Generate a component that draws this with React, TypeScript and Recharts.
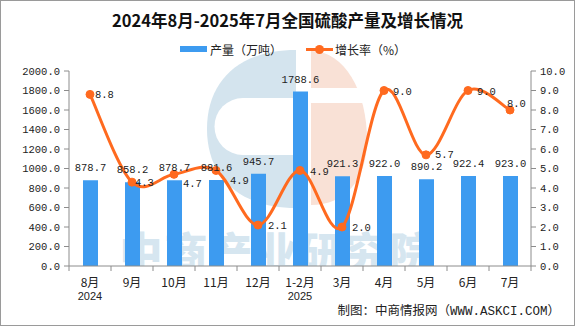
import React from 'react';
import { ComposedChart, Bar, Line, XAxis, YAxis, LabelList } from 'recharts';

const categories = ['8月', '9月', '10月', '11月', '12月', '1-2月', '3月', '4月', '5月', '6月', '7月'];
const yearLabels = ['2024', '', '', '', '', '2025', '', '', '', '', ''];
const production = [878.7, 858.2, 878.7, 881.6, 945.7, 1788.6, 921.3, 922.0, 890.2, 922.4, 923.0];
const growth = [8.8, 4.3, 4.7, 4.9, 2.1, 4.9, 2.0, 9.0, 5.7, 9.0, 8.0];
const leftTicks = [0, 200, 400, 600, 800, 1000, 1200, 1400, 1600, 1800, 2000];
const rightTicks = [0, 1, 2, 3, 4, 5, 6, 7, 8, 9, 10];

const data = categories.map((c, i) => ({ name: c, year: yearLabels[i], prod: production[i], growth: growth[i] }));

// label placement (style only): [dx, dy] relative to each point
const growthLabelOffsets = [[5, 0], [3, 0], [9, 9], [14, 10], [10, 0], [10, 1], [10, 0], [9, 0], [9, -1], [9, 0], [-3, -7]];

const MONO = '"Liberation Mono", "DejaVu Sans Mono", monospace';
const CJK = '"Noto Sans CJK SC", sans-serif';
const AXIS = '#8c8c8c';
const BLUE = '#3d9bf0';
const ORANGE = '#ff6a1f';
const BAND = 42;

// Excel-like smoothed line (Catmull-Rom Bezier)
const smoothCurve = (context: any) => {
  let pts: number[][] = [];
  return {
    areaStart() {},
    areaEnd() {},
    lineStart() { pts = []; },
    point(x: number, y: number) { pts.push([+x, +y]); },
    lineEnd() {
      if (!pts.length) return;
      context.moveTo(pts[0][0], pts[0][1]);
      for (let i = 0; i < pts.length - 1; i++) {
        const p0 = pts[i - 1] || pts[i];
        const p1 = pts[i];
        const p2 = pts[i + 1];
        const p3 = pts[i + 2] || p2;
        const c1x = p1[0] + (p2[0] - p0[0]) / 6;
        const c1y = p1[1] + (p2[1] - p0[1]) / 6;
        const c2x = p2[0] - (p3[0] - p1[0]) / 6;
        const c2y = p2[1] - (p3[1] - p1[1]) / 6;
        context.bezierCurveTo(c1x, c1y, c2x, c2y, p2[0], p2[1]);
      }
    },
  };
};

const XTick = (props: any) => {
  const { x, y, payload, index } = props;
  const i = payload && payload.index != null ? payload.index : index;
  const yr = yearLabels[i];
  return (
    <g>
      <line x1={x - BAND / 2} x2={x - BAND / 2} y1={y} y2={y + 5} stroke={AXIS} />
      {i === categories.length - 1 && (
        <line x1={x + BAND / 2} x2={x + BAND / 2} y1={y} y2={y + 5} stroke={AXIS} />
      )}
      <text x={x} y={y + 21} textAnchor="middle" fontSize={12} fontFamily={CJK} fill="#222">
        {payload.value}
      </text>
      {yr && (
        <text x={x} y={y + 34} textAnchor="middle" fontSize={11} fontFamily={'"Liberation Sans", sans-serif'} fill="#222">
          {yr}
        </text>
      )}
    </g>
  );
};

const GrowthLabel = (props: any) => {
  const { x, y, value, index } = props;
  const off = growthLabelOffsets[index] || [8, 0];
  return (
    <text x={x + off[0]} y={y + off[1] + 4} fontSize={10.5} fontFamily={MONO} fill="#222" textAnchor="start">
      {Number(value).toFixed(1)}
    </text>
  );
};

const ProdLabel = (props: any) => {
  const { x, y, width, value } = props;
  return (
    <text x={x + width / 2} y={y - 9} fontSize={10.5} fontFamily={MONO} fill="#222" textAnchor="middle">
      {Number(value).toFixed(1)}
    </text>
  );
};

export default function App() {
  return (
    <div style={{ position: 'absolute', left: 0, top: 0, width: 575, height: 326, background: '#fff', boxSizing: 'border-box', border: '1px solid #9a9a9a', overflow: 'hidden' }}>
      <svg width={575} height={326} style={{ position: 'absolute', left: -1, top: -1 }}>
        <defs>
          <clipPath id="wmclip">
            <rect x={0} y={0} width={575} height={266} />
          </clipPath>
        </defs>
        <path d="M 296 50 C 238 50 207 82 207 129 C 207 176 238 208 296 208 Z" fill="#d4e4ee" />
        <path d="M 243 98 L 296 98 L 296 155 L 243 155 A 28.5 28.5 0 0 1 243 98 Z" fill="#fff" />
        <path d="M 311 51 C 345 51 367 92 367 140 C 367 180 345 205 311 205 Z" fill="#f9e1d6" />
        <rect x={311} y={88} width={60} height={15} fill="#fff" />
        <text x={277} y={269} textAnchor="middle" fontSize={43} fontWeight={900} letterSpacing={2} fontFamily={CJK} fill="#d6e6f0" clipPath="url(#wmclip)">
          中商产业研究院
        </text>
      </svg>
      <div style={{ position: 'absolute', left: -1, top: -1 }}>
        <ComposedChart width={575} height={326} data={data} margin={{ top: 71, right: 0, bottom: 15, left: 9 }} barCategoryGap={0}>
          <XAxis dataKey="name" xAxisId="x" tickLine={false} tickSize={0} tickMargin={0} stroke={AXIS} height={45} interval={0} tick={<XTick />} />
          <YAxis yAxisId="left" domain={[0, 2000]} ticks={leftTicks} width={60} stroke={AXIS} tickSize={5} tickMargin={4}
            tick={{ fontSize: 10.5, fontFamily: MONO, fill: '#222' }} tickFormatter={(v: number) => v.toFixed(1)} interval={0} />
          <YAxis yAxisId="right" orientation="right" domain={[0, 10]} ticks={rightTicks} width={44} stroke={AXIS} tickSize={5} tickMargin={4}
            tick={{ fontSize: 10.5, fontFamily: MONO, fill: '#222' }} tickFormatter={(v: number) => v.toFixed(1)} interval={0} />
          <Bar dataKey="prod" xAxisId="x" yAxisId="left" fill={BLUE} barSize={15} isAnimationActive={false}>
            <LabelList dataKey="prod" content={<ProdLabel />} />
          </Bar>
          <Line dataKey="growth" xAxisId="x" yAxisId="right" type={smoothCurve as any} stroke={ORANGE} strokeWidth={3}
            dot={{ r: 4, fill: ORANGE, stroke: ORANGE, strokeWidth: 1 }} isAnimationActive={false}>
            <LabelList dataKey="growth" content={<GrowthLabel />} />
          </Line>
        </ComposedChart>
      </div>
      <div style={{ position: 'absolute', left: 0, top: 8, width: 573, textAlign: 'center', fontFamily: CJK, fontWeight: 'bold', fontSize: 16.5, color: '#111', lineHeight: '22px', whiteSpace: 'nowrap' }}>
        2024年8月-2025年7月全国硫酸产量及增长情况
      </div>
      <div style={{ position: 'absolute', left: 179, top: 39, height: 18, display: 'flex', alignItems: 'center', fontFamily: CJK, fontSize: 12, color: '#222', whiteSpace: 'nowrap' }}>
        <span style={{ display: 'inline-block', width: 27, height: 6, background: BLUE, marginRight: 3 }} />
        <span>产量（万吨）</span>
        <span style={{ position: 'relative', display: 'inline-block', width: 27, height: 3, background: ORANGE, marginLeft: 24, marginRight: 2 }}>
          <span style={{ position: 'absolute', left: 9, top: -3, width: 9, height: 9, borderRadius: 5, background: ORANGE }} />
        </span>
        <span>增长率（%）</span>
      </div>
      <div style={{ position: 'absolute', right: 14, top: 303, fontFamily: '"Liberation Mono", "Noto Sans CJK SC", monospace', fontSize: 12.5, color: '#222', lineHeight: '16px', whiteSpace: 'nowrap' }}>
        制图：中商情报网（WWW.ASKCI.COM）
      </div>
    </div>
  );
}
